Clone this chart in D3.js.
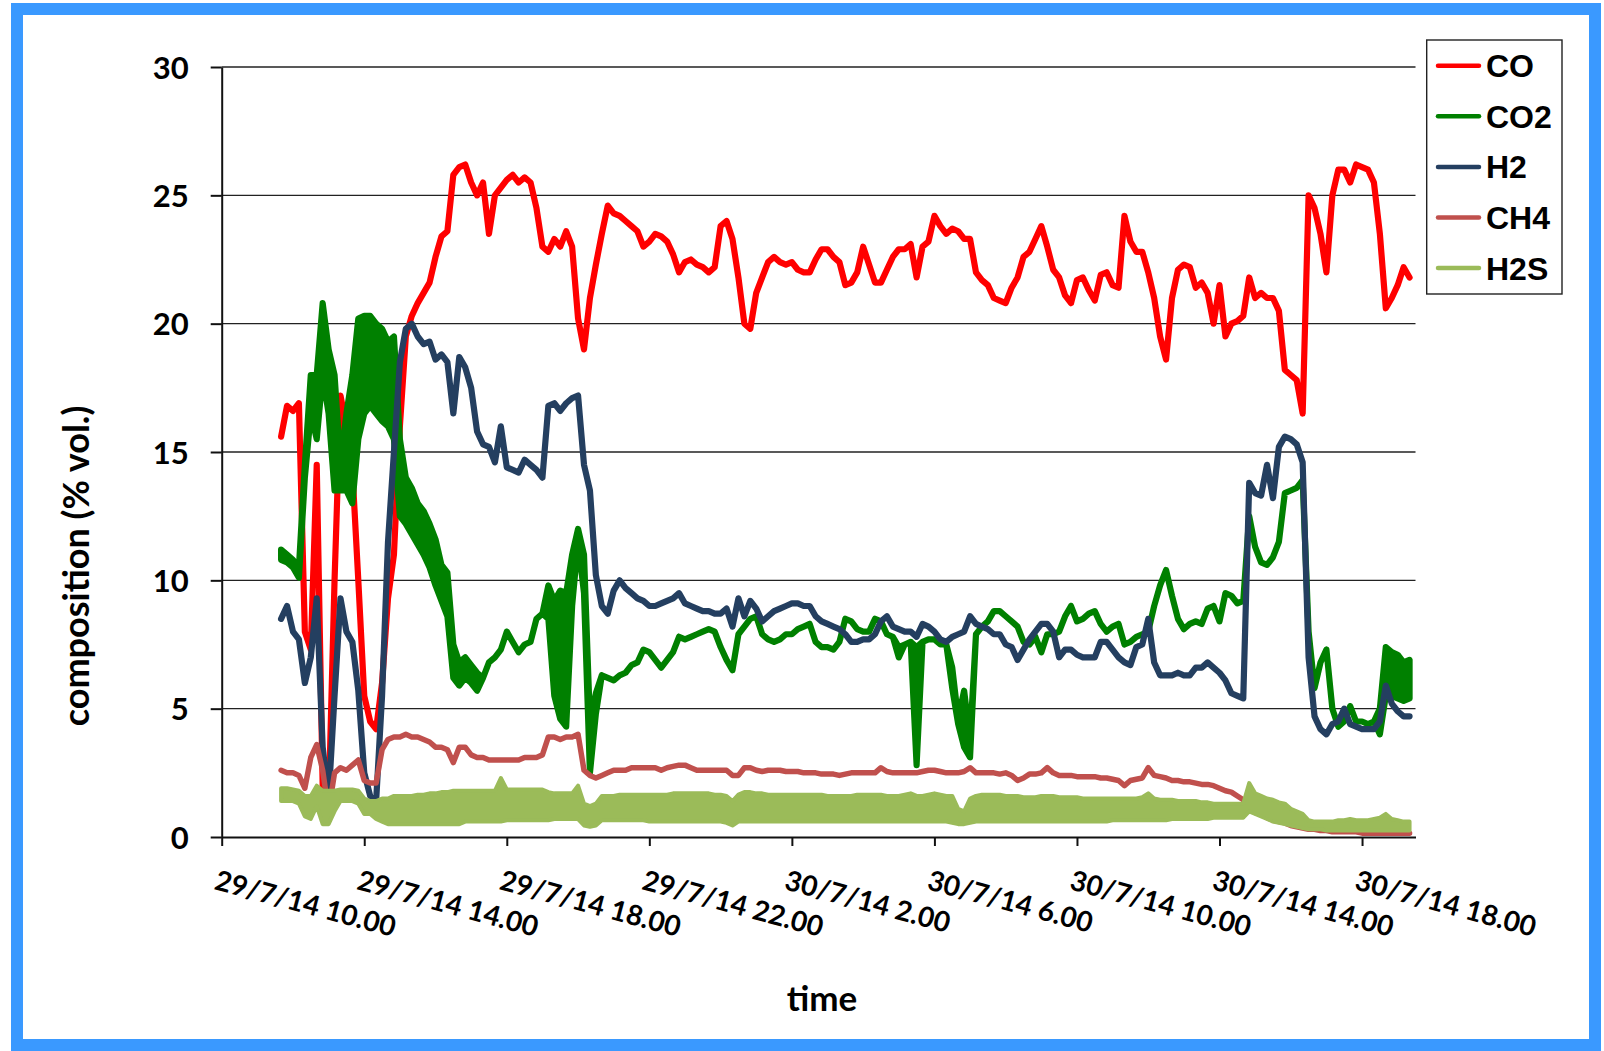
<!DOCTYPE html>
<html><head><meta charset="utf-8">
<script src="https://cdn.jsdelivr.net/npm/d3@7"></script>
<style>
html,body{margin:0;padding:0;background:#fff;}
svg{display:block;}
</style>
</head><body>
<svg id="chart" width="1604" height="1051"></svg>
<script>
// ---------- DATA ----------
const seriesNames = ["CO", "CO2", "H2", "CH4", "H2S"];
const seriesColors = ["#FF0000", "#008000", "#243F60", "#C0504D", "#9BBB59"];
const sampleStart = "2014-07-29T11:40:00";   // first sample
const sampleStepMinutes = 10;                 // sampling interval
const yTickValues = [0, 5, 10, 15, 20, 25, 30];
const xTickTimes = ["2014-07-29T10:00:00","2014-07-29T14:00:00","2014-07-29T18:00:00","2014-07-29T22:00:00",
  "2014-07-30T02:00:00","2014-07-30T06:00:00","2014-07-30T10:00:00","2014-07-30T14:00:00","2014-07-30T18:00:00"];
const xTickLabels = ["29/7/14 10.00","29/7/14 14.00","29/7/14 18.00","29/7/14 22.00",
  "30/7/14 2.00","30/7/14 6.00","30/7/14 10.00","30/7/14 14.00","30/7/14 18.00"];
const xDomain = ["2014-07-29T10:00:00", "2014-07-30T19:30:00"];

const co = [15.6,16.8,16.6,16.9,8.0,7.3,14.5,2.0,1.2,10.0,
17.2,16.0,14.3,10.0,5.5,4.5,4.2,6.0,9.3,11.0,
16.0,19.5,20.3,20.8,21.2,21.6,22.6,23.4,23.6,25.8,
26.1,26.2,25.5,25.0,25.5,23.5,25.0,25.3,25.6,25.8,
25.5,25.7,25.5,24.5,23.0,22.8,23.3,23.0,23.6,23.0,
20.2,19.0,21.0,22.3,23.5,24.6,24.3,24.2,24.0,23.8,
23.6,23.0,23.2,23.5,23.4,23.2,22.7,22.0,22.4,22.5,
22.3,22.2,22.0,22.2,23.8,24.0,23.3,21.8,20.0,19.8,
21.2,21.8,22.4,22.6,22.4,22.3,22.4,22.1,22.0,22.0,
22.5,22.9,22.9,22.6,22.4,21.5,21.6,22.0,23.0,22.3,
21.6,21.6,22.1,22.6,22.9,22.9,23.1,21.8,23.0,23.2,
24.2,23.8,23.5,23.7,23.6,23.3,23.3,22.0,21.7,21.5,
21.0,20.9,20.8,21.4,21.8,22.6,22.8,23.3,23.8,23.0,
22.1,21.8,21.1,20.8,21.7,21.8,21.3,20.9,21.9,22.0,
21.5,21.4,24.2,23.2,22.8,22.8,22.0,21.0,19.5,18.6,
21.0,22.1,22.3,22.2,21.4,21.6,21.2,20.0,21.5,19.5,
20.0,20.1,20.3,21.8,21.0,21.2,21.0,21.0,20.5,18.2,
18.0,17.8,16.5,25.0,24.5,23.5,22.0,25.0,26.0,26.0,
25.5,26.2,26.1,26.0,25.5,23.5,20.6,21.0,21.5,22.2,21.8];

const co2Lo = [10.8,10.7,10.5,10.1,14.0,16.5,15.5,18.0,16.5,13.5,
13.5,13.5,13.0,15.5,16.5,16.8,16.5,16.2,16.0,15.5,
12.5,12.2,11.8,11.4,11.0,10.5,9.8,9.2,8.6,6.2,
5.9,6.2,6.0,5.7,6.2,6.8,7.0,7.3,8.0,7.6,
7.2,7.5,7.6,8.5,8.7,8.5,5.5,4.6,4.3,9.0,
11.5,9.5,2.5,4.8,6.3,6.2,6.1,6.3,6.4,6.7,
6.8,7.3,7.2,6.9,6.6,6.9,7.2,7.8,7.7,7.8,
7.9,8.0,8.1,8.0,7.4,6.9,6.5,7.9,8.2,8.5,
8.6,7.9,7.7,7.6,7.7,7.9,7.9,8.1,8.2,8.3,
7.6,7.4,7.4,7.3,7.6,8.5,8.4,8.1,8.0,8.0,
8.5,8.4,7.9,7.8,7.0,7.5,7.6,2.8,7.6,7.7,
7.7,7.5,7.5,5.8,4.4,3.5,3.1,7.9,8.2,8.4,
8.8,8.8,8.6,8.4,8.2,7.6,7.5,7.8,7.2,7.9,
7.9,8.0,8.6,9.0,8.4,8.5,8.7,8.8,8.3,8.0,
8.2,8.3,7.5,7.6,7.8,7.9,8.0,9.0,9.8,10.4,
9.4,8.5,8.1,8.3,8.4,8.3,8.9,9.0,8.4,9.5,
9.4,9.1,9.2,12.5,11.3,10.7,10.6,10.9,11.5,13.4,
13.5,13.6,13.9,8.0,5.8,6.8,7.3,5.0,4.3,4.5,
5.1,4.5,4.5,4.4,4.5,4.0,5.5,5.5,5.4,5.3,5.4];

const co2Hi = [11.2,11.0,10.8,10.5,14.5,18.0,18.0,20.8,19.0,18.0,
14.5,16.5,18.0,20.2,20.3,20.3,20.0,19.8,19.3,19.5,
15.5,14.0,13.6,13.0,12.7,12.2,11.6,10.6,10.3,7.5,
6.8,7.0,6.7,6.4,6.2,6.8,7.0,7.3,8.0,7.6,
7.2,7.5,7.6,8.5,8.7,9.8,9.2,9.6,9.5,11.0,
12.0,11.0,4.5,5.6,6.3,6.2,6.1,6.3,6.4,6.7,
6.8,7.3,7.2,6.9,6.6,6.9,7.2,7.8,7.7,7.8,
7.9,8.0,8.1,8.0,7.4,6.9,6.5,7.9,8.2,8.5,
8.6,7.9,7.7,7.6,7.7,7.9,7.9,8.1,8.2,8.3,
7.6,7.4,7.4,7.3,7.6,8.5,8.4,8.1,8.0,8.0,
8.5,8.4,7.9,7.8,7.4,7.5,7.6,7.4,7.6,7.7,
7.7,7.5,7.5,6.6,4.6,5.7,3.8,7.9,8.2,8.4,
8.8,8.8,8.6,8.4,8.2,7.6,7.5,7.8,7.2,7.9,
7.9,8.0,8.6,9.0,8.4,8.5,8.7,8.8,8.3,8.0,
8.2,8.3,7.5,7.6,7.8,7.9,8.0,9.0,9.8,10.4,
9.4,8.5,8.1,8.3,8.4,8.3,8.9,9.0,8.4,9.5,
9.4,9.1,9.2,12.5,11.3,10.7,10.6,10.9,11.5,13.4,
13.5,13.6,13.9,8.0,5.8,6.8,7.3,5.0,4.3,4.5,
5.1,4.5,4.5,4.4,4.5,5.0,7.4,7.2,7.1,6.8,6.9];

const h2 = [8.5,9.0,8.0,7.7,6.0,7.0,9.3,3.5,1.5,5.5,
9.3,8.0,7.6,5.7,2.5,1.6,1.4,5.5,11.5,15.0,
18.5,19.8,20.0,19.5,19.2,19.3,18.6,18.8,18.5,16.5,
18.7,18.3,17.5,15.8,15.3,15.2,14.6,16.0,14.4,14.3,
14.2,14.7,14.5,14.3,14.0,16.8,16.9,16.6,16.9,17.1,
17.2,14.5,13.5,10.2,9.0,8.7,9.6,10.0,9.7,9.5,
9.3,9.2,9.0,9.0,9.1,9.2,9.3,9.5,9.1,9.0,
8.9,8.8,8.8,8.7,8.7,8.9,8.2,9.3,8.6,9.2,
8.9,8.4,8.6,8.8,8.9,9.0,9.1,9.1,9.0,9.0,
8.6,8.4,8.3,8.2,8.1,7.9,7.6,7.6,7.7,7.7,
7.9,8.4,8.6,8.2,8.1,8.0,8.0,7.8,8.3,8.2,
8.0,7.7,7.6,7.8,7.9,8.0,8.6,8.3,8.2,8.1,
7.9,7.9,7.5,7.4,6.9,7.3,7.7,8.0,8.3,8.3,
8.0,7.0,7.3,7.3,7.1,7.0,7.0,7.0,7.6,7.6,
7.3,7.0,6.8,6.7,7.4,7.5,8.5,6.8,6.3,6.3,
6.3,6.4,6.3,6.3,6.6,6.6,6.8,6.6,6.4,6.1,
5.6,5.5,5.4,13.8,13.4,13.3,14.5,13.2,15.2,15.6,
15.5,15.3,14.6,7.0,4.7,4.2,4.0,4.4,4.5,5.0,
4.4,4.3,4.2,4.2,4.2,4.5,5.9,5.2,4.9,4.7,4.7];

const ch4 = [2.6,2.5,2.5,2.4,1.9,3.1,3.6,2.6,1.0,2.5,
2.7,2.6,2.8,3.0,2.2,2.1,2.1,3.4,3.8,3.9,
3.9,4.0,3.9,3.9,3.8,3.7,3.5,3.5,3.4,2.9,
3.5,3.5,3.2,3.1,3.1,3.0,3.0,3.0,3.0,3.0,
3.0,3.1,3.1,3.1,3.2,3.9,3.9,3.8,3.9,3.9,
4.0,2.6,2.4,2.3,2.4,2.5,2.6,2.6,2.6,2.7,
2.7,2.7,2.7,2.7,2.6,2.7,2.75,2.8,2.8,2.7,
2.6,2.6,2.6,2.6,2.6,2.6,2.4,2.4,2.7,2.7,
2.6,2.55,2.6,2.6,2.6,2.55,2.55,2.55,2.5,2.5,
2.5,2.45,2.45,2.45,2.4,2.45,2.5,2.5,2.5,2.5,
2.5,2.7,2.55,2.5,2.5,2.5,2.5,2.5,2.55,2.6,
2.6,2.55,2.5,2.5,2.5,2.55,2.7,2.5,2.5,2.5,
2.5,2.45,2.5,2.4,2.2,2.3,2.45,2.45,2.5,2.7,
2.5,2.4,2.4,2.4,2.35,2.35,2.35,2.35,2.3,2.3,
2.25,2.2,2.0,2.2,2.25,2.3,2.7,2.4,2.35,2.3,
2.2,2.2,2.15,2.15,2.1,2.05,2.05,2.0,1.9,1.8,
1.75,1.6,1.45,1.2,0.95,0.9,0.75,0.65,0.6,0.55,
0.45,0.4,0.35,0.3,0.3,0.25,0.25,0.2,0.2,0.2,
0.2,0.2,0.15,0.15,0.15,0.15,0.15,0.15,0.15,0.15,0.15];

const h2sHi = [1.9,1.9,1.85,1.8,1.6,1.6,2.0,1.8,1.8,1.8,
1.85,1.85,1.85,1.8,1.5,1.4,1.4,1.5,1.5,1.6,
1.6,1.6,1.6,1.65,1.65,1.7,1.7,1.75,1.75,1.8,
1.8,1.8,1.8,1.8,1.8,1.8,1.8,2.3,1.85,1.85,
1.85,1.85,1.85,1.85,1.85,1.75,1.7,1.7,1.7,1.7,
2.0,1.3,1.2,1.3,1.6,1.6,1.6,1.65,1.65,1.65,
1.65,1.65,1.65,1.65,1.65,1.65,1.7,1.7,1.7,1.7,
1.7,1.7,1.7,1.65,1.65,1.6,1.4,1.65,1.75,1.75,
1.7,1.7,1.65,1.65,1.65,1.65,1.65,1.65,1.65,1.65,
1.65,1.65,1.6,1.6,1.6,1.6,1.6,1.65,1.65,1.65,
1.65,1.65,1.6,1.6,1.6,1.65,1.7,1.6,1.6,1.65,
1.7,1.65,1.6,1.6,1.1,1.0,1.5,1.6,1.65,1.65,
1.65,1.65,1.6,1.6,1.6,1.55,1.55,1.55,1.6,1.6,
1.6,1.55,1.55,1.55,1.55,1.5,1.5,1.5,1.5,1.5,
1.5,1.5,1.5,1.5,1.5,1.55,1.7,1.5,1.45,1.45,
1.45,1.4,1.4,1.4,1.4,1.35,1.35,1.3,1.3,1.3,
1.3,1.3,1.3,2.1,1.7,1.6,1.5,1.45,1.35,1.3,
1.1,1.0,0.9,0.65,0.6,0.6,0.6,0.6,0.65,0.65,
0.7,0.65,0.65,0.65,0.7,0.75,0.9,0.7,0.65,0.6,0.6];

const h2sLo = [1.4,1.4,1.4,1.3,0.8,0.7,1.2,0.5,0.5,1.0,
1.4,1.4,1.4,1.3,0.9,0.9,0.7,0.6,0.5,0.5,
0.5,0.5,0.5,0.5,0.5,0.5,0.5,0.5,0.5,0.5,
0.5,0.6,0.6,0.6,0.6,0.6,0.6,0.6,0.65,0.65,
0.65,0.65,0.65,0.65,0.65,0.65,0.7,0.7,0.7,0.7,
0.7,0.45,0.4,0.45,0.65,0.65,0.65,0.65,0.65,0.65,
0.65,0.65,0.6,0.6,0.6,0.6,0.6,0.6,0.6,0.6,
0.6,0.6,0.6,0.6,0.6,0.55,0.45,0.6,0.6,0.6,
0.6,0.6,0.6,0.6,0.6,0.6,0.6,0.6,0.6,0.6,
0.6,0.6,0.6,0.6,0.6,0.6,0.6,0.6,0.6,0.6,
0.6,0.6,0.6,0.6,0.6,0.6,0.6,0.6,0.6,0.6,
0.6,0.6,0.6,0.55,0.5,0.5,0.55,0.6,0.6,0.6,
0.6,0.6,0.6,0.6,0.6,0.6,0.6,0.6,0.6,0.6,
0.6,0.6,0.6,0.6,0.6,0.6,0.6,0.6,0.6,0.6,
0.65,0.65,0.65,0.65,0.65,0.65,0.65,0.65,0.65,0.65,
0.7,0.7,0.7,0.7,0.7,0.7,0.7,0.75,0.75,0.75,
0.75,0.75,0.75,1.0,0.9,0.8,0.7,0.6,0.55,0.5,
0.45,0.4,0.35,0.3,0.3,0.3,0.25,0.25,0.25,0.25,
0.25,0.25,0.25,0.25,0.25,0.25,0.25,0.25,0.25,0.25,0.25];

// ---------- LAYOUT ----------
const W = 1604, H = 1051;
const plot = {left: 221.7, right: 1415.5, top: 67, bottom: 837};
const svg = d3.select("#chart");
svg.append("rect").attr("width", W).attr("height", H).attr("fill", "#fff");
// outer blue frame
svg.append("rect").attr("x", 17).attr("y", 9).attr("width", 1578).attr("height", 1036)
  .attr("fill", "none").attr("stroke", "#3A99FF").attr("stroke-width", 12);

const parse = d3.isoParse;
const t0 = parse(sampleStart);
const times = co.map((_, i) => new Date(t0.getTime() + i * sampleStepMinutes * 60000));

const x = d3.scaleTime().domain(xDomain.map(parse)).range([plot.left, plot.right]);
const y = d3.scaleLinear().domain([0, 30]).range([plot.bottom, plot.top]);

// gridlines
svg.append("g").selectAll("line").data(yTickValues.filter(v => v > 0)).join("line")
  .attr("x1", plot.left).attr("x2", plot.right)
  .attr("y1", d => y(d)).attr("y2", d => y(d))
  .attr("stroke", "#222").attr("stroke-width", 1.4);

const FONT = "Lato, 'Open Sans', sans-serif";

// y axis
const yAxis = svg.append("g").attr("transform", `translate(${plot.left},0)`)
  .call(d3.axisLeft(y).tickValues(yTickValues).tickSize(11).tickSizeOuter(0).tickPadding(22));
yAxis.select(".domain").attr("stroke", "#111").attr("stroke-width", 2);
yAxis.selectAll(".tick line").attr("stroke", "#111").attr("stroke-width", 2);
yAxis.selectAll(".tick text").attr("font-family", FONT).attr("font-weight", "bold")
  .attr("font-size", 31).attr("fill", "#000").attr("dy", "0.36em");

// x axis
const tickDates = xTickTimes.map(parse);
const labelOf = new Map(tickDates.map((d, i) => [d.getTime(), xTickLabels[i]]));
const xAxis = svg.append("g").attr("transform", `translate(0,${plot.bottom})`)
  .call(d3.axisBottom(x).tickValues(tickDates).tickSize(9).tickSizeOuter(0)
    .tickFormat(d => labelOf.get(d.getTime())));
xAxis.select(".domain").attr("stroke", "#111").attr("stroke-width", 2);
xAxis.selectAll(".tick line").attr("stroke", "#111").attr("stroke-width", 2);
xAxis.selectAll(".tick text")
  .attr("font-family", FONT).attr("font-weight", "bold").attr("font-size", 28).attr("fill", "#000")
  .attr("text-anchor", "start").attr("x", -9).attr("y", 52).attr("dy", 0)
  .attr("transform", "rotate(15,-9,52)");

// axis titles
svg.append("text").attr("x", 822).attr("y", 1011).attr("text-anchor", "middle")
  .attr("font-family", FONT).attr("font-weight", "bold").attr("font-size", 35).text("time");
svg.append("text").attr("transform", "translate(89,566) rotate(-90)").attr("text-anchor", "middle")
  .attr("font-family", FONT).attr("font-weight", "bold").attr("font-size", 36).text("composition (% vol.)");

// ---------- SERIES ----------
const g = svg.append("g");
const line = d3.line().x((d, i) => x(times[i])).y(d => y(d));
const area = d3.area().x((d, i) => x(times[i])).y0(d => y(d[0])).y1(d => y(d[1]));
const zip = (a, b) => a.map((v, i) => [v, b[i]]);

// draw order: CO, CO2, H2, CH4, H2S
g.append("path").datum(co).attr("d", line).attr("fill", "none")
  .attr("stroke", seriesColors[0]).attr("stroke-width", 6.2).attr("stroke-linejoin", "round").attr("stroke-linecap", "round");
g.append("path").datum(zip(co2Lo, co2Hi)).attr("d", area).attr("fill", seriesColors[1])
  .attr("stroke", seriesColors[1]).attr("stroke-width", 6.2).attr("stroke-linejoin", "round");
g.append("path").datum(h2).attr("d", line).attr("fill", "none")
  .attr("stroke", seriesColors[2]).attr("stroke-width", 6.2).attr("stroke-linejoin", "round").attr("stroke-linecap", "round");
g.append("path").datum(ch4).attr("d", line).attr("fill", "none")
  .attr("stroke", seriesColors[3]).attr("stroke-width", 5.5).attr("stroke-linejoin", "round").attr("stroke-linecap", "round");
g.append("path").datum(zip(h2sLo, h2sHi)).attr("d", area).attr("fill", seriesColors[4])
  .attr("stroke", seriesColors[4]).attr("stroke-width", 4).attr("stroke-linejoin", "round");

// ---------- LEGEND ----------
const lg = svg.append("g");
lg.append("rect").attr("x", 1426.7).attr("y", 40).attr("width", 135.3).attr("height", 254)
  .attr("fill", "#fff").attr("stroke", "#222").attr("stroke-width", 1.4);
const items = lg.selectAll("g.item").data(seriesNames).join("g").attr("class", "item")
  .attr("transform", (d, i) => `translate(0,${65.7 + i * 50.6})`);
items.append("line").attr("x1", 1438).attr("x2", 1479).attr("y1", 0).attr("y2", 0)
  .attr("stroke", (d, i) => seriesColors[i]).attr("stroke-width", 4.5).attr("stroke-linecap", "round");
items.append("text").attr("x", 1486).attr("y", 11.5)
  .attr("font-family", "'Liberation Sans', Arial, sans-serif").attr("font-weight", "bold")
  .attr("font-size", 32).attr("fill", "#000").text(d => d);
</script>
</body></html>
